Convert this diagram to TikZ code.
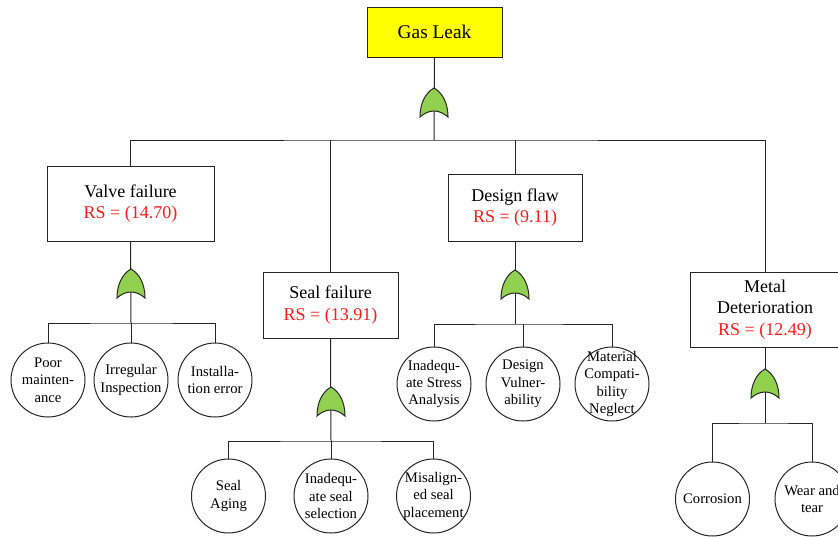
\documentclass[tikz,border=0pt]{standalone}
\usepackage{fontspec}
\setmainfont{Liberation Serif}
\definecolor{gatefill}{HTML}{92D050}
\definecolor{rsred}{HTML}{FF1A1A}
\definecolor{topfill}{HTML}{FFFF00}
\begin{document}
\begin{tikzpicture}[x=0.75pt,y=-0.75pt,
  line width=0.75pt,
  wire/.style={draw=black!85, line width=0.75pt},
  event/.style={draw=black!85, rectangle, inner sep=0pt, align=center,
    line width=0.75pt, font=\fontsize{13.5}{16}\selectfont},
  basic/.style={draw=black!85, circle, inner sep=0pt, minimum size=55.5pt},
  ctext/.style={align=center, inner sep=0pt, font=\fontsize{11}{13.1}\selectfont},
  orgate/.pic={
    \filldraw[fill=gatefill, draw=black!85, line width=0.75pt]
      (-14,0) .. controls (-14,-13) and (-9,-24) .. (0,-29)
      .. controls (9,-24) and (14,-13) .. (14,0)
      .. controls (5,-8) and (-5,-8) .. cycle;
  }]
\useasboundingbox (0,0) rectangle (838,536);

% top event
\node[event, fill=topfill, minimum width=101.25pt, minimum height=37.5pt,
  font=\fontsize{14.5}{17}\selectfont] (top) at (434.5,32) {Gas Leak};

% intermediate events
\node[event, minimum width=125.25pt, minimum height=56.25pt] (valve) at (130.5,203.5)
  {Valve failure\\\textcolor{rsred}{RS = (14.70)}};
\node[event, minimum width=101.25pt, minimum height=49.5pt] (seal) at (330.5,305)
  {Seal failure\\\textcolor{rsred}{RS = (13.91)}};
\node[event, minimum width=100.5pt, minimum height=50.25pt] (design) at (515,207.5)
  {Design flaw\\\textcolor{rsred}{RS = (9.11)}};
\node[event, minimum width=112.5pt, minimum height=56.25pt] (metal) at (765,309.5)
  {Metal\\Deterioration\\\textcolor{rsred}{RS = (12.49)}};

% basic events
\node[basic, label={[ctext]center:Poor\\mainten-\\ance}] (v1) at (48,380) {};
\node[basic, label={[ctext]center:Irregular\\Inspection}] (v2) at (131,380) {};
\node[basic, label={[ctext]center:Installa-\\tion error}] (v3) at (215,380) {};

\node[basic, label={[ctext]center:Seal\\Aging}] (s1) at (228.5,496) {};
\node[basic, label={[ctext]center:Inadequ-\\ate seal\\selection}] (s2) at (331,496) {};
\node[basic, label={[ctext]center:Misalign-\\ed seal\\placement}] (s3) at (433.5,496) {};

\node[basic, label={[ctext]center:Inadequ-\\ate Stress\\Analysis}] (d1) at (434,384) {};
\node[basic, label={[ctext]center:Design\\Vulner-\\ability}] (d2) at (523,384) {};
\node[basic, label={[ctext]center:Material\\Compati-\\bility\\Neglect}] (d3) at (612,384) {};

\node[basic, label={[ctext]center:Corrosion}] (m1) at (712.5,499) {};
\node[basic, label={[ctext]center:Wear and\\tear}] (m2) at (812,499) {};

% junction points of the connector buses
\coordinate (tbus) at (434,140);
\coordinate (vbus) at (131,323);
\coordinate (sbus) at (331,441);
\coordinate (dbus) at (515,324);
\coordinate (mbus) at (765,423);

% top level
\draw[wire] (top.south) -- (tbus);
\draw[wire] (valve.north) |- (tbus) -| (metal.north);
\draw[wire] (seal.north) -- (seal.north |- tbus);
\draw[wire] (design.north) -- (design.north |- tbus);

% valve failure branch
\draw[wire] (valve.south) -- (vbus);
\draw[wire] (v1.north) |- (vbus) -| (v3.north);
\draw[wire] (v2.north) -- (vbus);

% seal failure branch
\draw[wire] (seal.south) -- (sbus);
\draw[wire] (s1.north) |- (sbus) -| (s3.north);
\draw[wire] (s2.north) -- (sbus);

% design flaw branch
\draw[wire] (design.south) -- (dbus);
\draw[wire] (d1.north) |- (dbus) -| (d3.north);
\draw[wire] (d2.north) -- (d2.north |- dbus);

% metal deterioration branch
\draw[wire] (metal.south) -- (mbus);
\draw[wire] (m1.north) |- (mbus) -| (m2.north);

% OR gates
\pic at (434,117) {orgate};
\pic at (131,298) {orgate};
\pic at (331,416) {orgate};
\pic at (515,299) {orgate};
\pic at (765,398) {orgate};
\end{tikzpicture}
\end{document}
